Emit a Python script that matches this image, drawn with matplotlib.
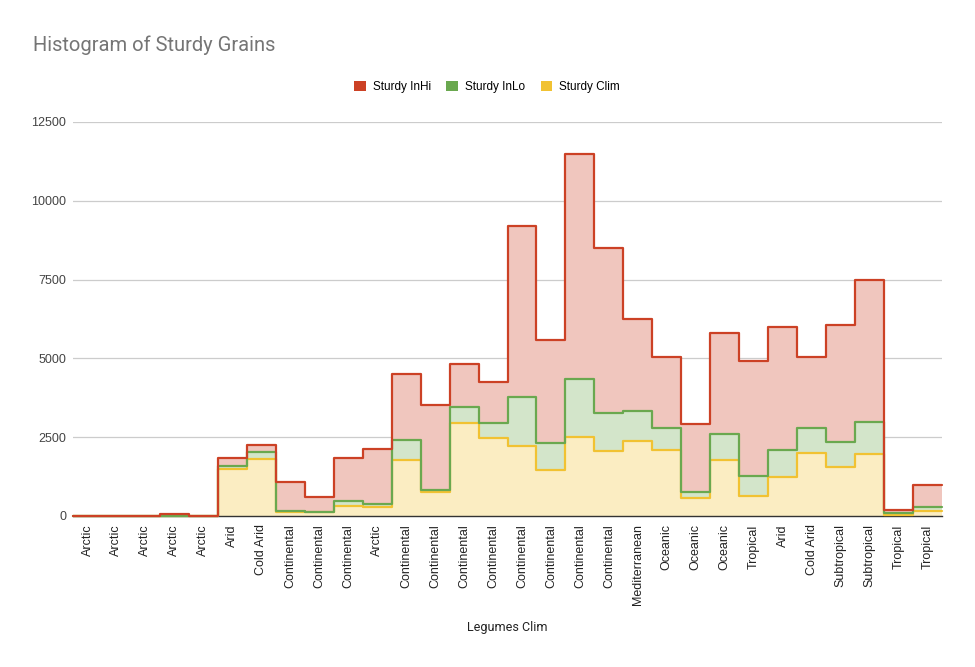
import matplotlib
matplotlib.use('Agg')
import matplotlib.pyplot as plt
from matplotlib.patches import Patch
import numpy as np

categories = ['Arctic', 'Arctic', 'Arctic', 'Arctic', 'Arctic', 'Arid', 'Cold Arid',
              'Continental', 'Continental', 'Continental', 'Arctic',
              'Continental', 'Continental', 'Continental', 'Continental',
              'Continental', 'Continental', 'Continental', 'Continental',
              'Mediterranean', 'Oceanic', 'Oceanic', 'Oceanic', 'Tropical',
              'Arid', 'Cold Arid', 'Subtropical', 'Subtropical', 'Tropical', 'Tropical']

sturdy_inhi = [0, 0, 0, 50, 0, 1850, 2250, 1080, 600, 1830, 2120, 4500, 3535, 4830, 4255,
               9190, 5580, 11490, 8500, 6255, 5040, 2930, 5810, 4930, 5990, 5030, 6045,
               7495, 190, 975]
sturdy_inlo = [0, 0, 0, 0, 0, 1600, 2030, 170, 140, 490, 390, 2410, 815, 3460, 2955,
               3770, 2305, 4340, 3260, 3345, 2785, 775, 2605, 1260, 2105, 2785, 2360,
               2985, 85, 275]
sturdy_clim = [0, 0, 0, 0, 0, 1490, 1820, 125, 115, 330, 275, 1770, 760, 2965, 2490,
               2225, 1450, 2520, 2075, 2390, 2105, 560, 1780, 635, 1240, 1990, 1555,
               1970, 30, 170]

series_names = ['Sturdy InHi', 'Sturdy InLo', 'Sturdy Clim']
y_ticks = [0, 2500, 5000, 7500, 10000, 12500]

line_colors = ['#cc4125', '#6aa84f', '#f1c232']
fill_colors = ['#f0c6be', '#d3e5ca', '#fbedc2']

fig = plt.figure(figsize=(9.75, 6.67), dpi=100)
ax = fig.add_axes([73 / 975, 1 - 516 / 667, (942 - 73) / 975, (516 - 122) / 667])

n = len(categories)
edges = np.arange(n + 1)
hi = np.array(sturdy_inhi, dtype=float)
lo = np.array(sturdy_inlo, dtype=float)
cl = np.array(sturdy_clim, dtype=float)

# fills (regions between successive levels)
ax.stairs(hi, edges, baseline=lo, fill=True, color=fill_colors[0], lw=0, zorder=1)
ax.stairs(lo, edges, baseline=cl, fill=True, color=fill_colors[1], lw=0, zorder=1)
ax.stairs(cl, edges, baseline=0, fill=True, color=fill_colors[2], lw=0, zorder=1)

# outlines
for vals, col, z in [(cl, line_colors[2], 3), (lo, line_colors[1], 4), (hi, line_colors[0], 5)]:
    a = ax.stairs(vals, edges, baseline=None, color=col, lw=1.6, zorder=z)
    a.set_joinstyle('round')
    a.set_capstyle('round')
    a.set_clip_on(False)

ax.set_xlim(0, n)
ax.set_ylim(0, 12500)
ax.set_yticks(y_ticks)
ax.set_yticklabels([str(v) for v in y_ticks], fontsize=9, color='#444444',
                   family='Liberation Sans')
ax.set_xticks(edges[:-1] + 0.5)
ax.set_xticklabels(categories, rotation=90, fontsize=9, color='#222222',
                   family='Liberation Sans')
ax.tick_params(axis='both', length=0)
ax.tick_params(axis='x', pad=6)
ax.tick_params(axis='y', pad=5)
ax.grid(axis='y', color='#cccccc', lw=0.9, zorder=0)
ax.set_axisbelow(True)
for s in ['top', 'right', 'left']:
    ax.spines[s].set_visible(False)
ax.spines['bottom'].set_color('#333333')
ax.spines['bottom'].set_linewidth(1.0)
ax.spines['bottom'].set_zorder(2)

fig.text(507 / 975, 1 - 627 / 667, 'Legumes Clim', ha='center', va='center',
         fontsize=9, color='#222222', family='Roboto')

fig.text(33 / 975, 1 - 45 / 667, 'Histogram of Sturdy Grains', ha='left', va='center',
         fontsize=14.5, color='#757575', family='Roboto')

handles = [Patch(facecolor=c, edgecolor='none') for c in line_colors]
fig.legend(handles, series_names, loc='center', bbox_to_anchor=(487 / 975, 1 - 87 / 667),
           ncol=3, frameon=False, handlelength=1.0, handleheight=1.0,
           handletextpad=0.6, columnspacing=1.3,
           prop={'family': 'Liberation Sans', 'size': 8.5})

fig.savefig('out.png', dpi=100, facecolor='white')
